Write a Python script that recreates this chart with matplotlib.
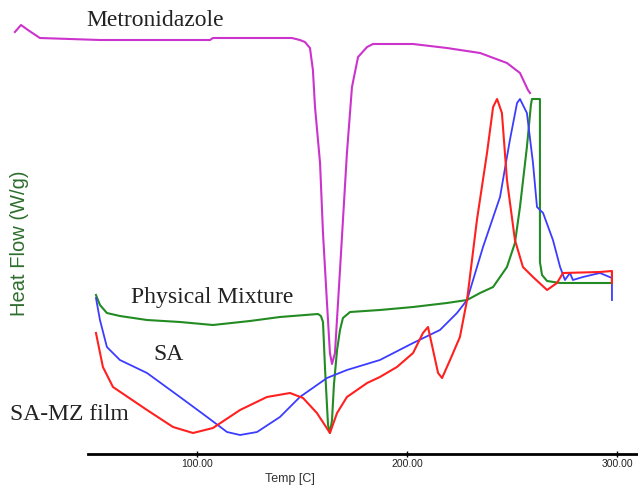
import matplotlib
matplotlib.use("Agg")
import matplotlib.pyplot as plt

# temperatures (C) and heat flow (arbitrary units)
mz_temp = [13.3, 16.2, 19.5, 25.2, 53.8, 106.2, 107.6, 145.2, 149.0, 151.4, 153.8, 155.2,
           156.2, 158.6, 160.0, 161.9, 163.3, 164.3, 165.7, 168.1, 171.4, 173.8, 176.7,
           181.0, 183.8, 202.9, 219.0, 234.8, 247.6, 253.8, 257.6, 258.6]
mz_hf = [4.22, 4.29, 4.24, 4.16, 4.14, 4.14, 4.16, 4.16, 4.14, 4.12, 4.06, 3.84,
         3.47, 2.91, 2.21, 1.51, 1.01, 0.90, 1.01, 1.84, 3.01, 3.67, 3.97,
         4.07, 4.10, 4.10, 4.06, 4.01, 3.91, 3.81, 3.64, 3.61]

pm_temp = [51.9, 53.8, 57.1, 63.3, 76.2, 91.9, 107.6, 125.2, 139.5, 157.6, 159.0, 160.0,
           161.0, 162.4, 163.3, 164.3, 165.2, 166.7, 168.1, 169.5, 172.9, 187.1, 202.9,
           219.0, 228.6, 234.8, 241.0, 247.6, 251.4, 253.8, 257.1, 259.0, 259.5, 263.3,
           263.3, 264.3, 266.7, 272.9, 297.6, 297.6]
pm_hf = [1.59, 1.49, 1.41, 1.38, 1.34, 1.32, 1.29, 1.33, 1.37, 1.40, 1.38, 1.32,
         0.84, 0.29, 0.21, 0.34, 0.69, 1.04, 1.24, 1.36, 1.42, 1.44, 1.47,
         1.51, 1.54, 1.61, 1.67, 1.87, 2.11, 2.47, 3.07, 3.49, 3.55, 3.55,
         1.92, 1.79, 1.73, 1.71, 1.71, 1.82]

sa_temp = [51.9, 53.8, 57.1, 63.3, 76.2, 91.9, 104.8, 114.3, 120.5, 128.6, 139.5, 149.0,
           161.9, 171.4, 187.1, 202.9, 215.7, 223.8, 228.6, 236.2, 244.3, 249.0, 252.4,
           253.8, 257.1, 260.0, 261.9, 264.8, 269.5, 272.9, 275.2, 277.6, 279.0, 283.8,
           291.9, 297.6, 297.6]
sa_hf = [1.56, 1.34, 1.07, 0.94, 0.81, 0.57, 0.37, 0.22, 0.19, 0.22, 0.37, 0.57,
         0.76, 0.84, 0.94, 1.11, 1.24, 1.41, 1.54, 2.07, 2.57, 3.14, 3.51,
         3.55, 3.41, 2.91, 2.47, 2.41, 2.14, 1.87, 1.74, 1.81, 1.74, 1.77,
         1.81, 1.76, 1.54]

film_temp = [51.9, 55.2, 60.0, 76.2, 88.6, 98.1, 107.6, 120.5, 133.3, 144.3, 150.5, 157.1,
             162.4, 163.3, 166.7, 171.4, 181.0, 187.1, 195.2, 202.9, 207.6, 210.0, 212.4,
             214.8, 216.7, 220.5, 225.2, 228.6, 233.3, 238.1, 241.0, 242.9, 245.2, 247.6,
             251.4, 255.2, 260.0, 266.7, 271.4, 274.3, 291.9, 297.6, 297.6]
film_hf = [1.21, 0.87, 0.67, 0.44, 0.27, 0.21, 0.26, 0.44, 0.57, 0.61, 0.56, 0.41,
           0.24, 0.21, 0.41, 0.57, 0.71, 0.77, 0.87, 1.01, 1.21, 1.27, 1.04,
           0.81, 0.76, 0.94, 1.17, 1.54, 2.34, 3.01, 3.47, 3.55, 3.41, 2.74,
           2.14, 1.87, 1.77, 1.64, 1.71, 1.81, 1.82, 1.83, 1.71]

xticks = [100, 200, 300]
xtick_labels = ["100.00", "200.00", "300.00"]

fig = plt.figure(figsize=(6.38, 4.88), dpi=100)
ax = fig.add_axes([0, 34 / 488, 1, 454 / 488])

ax.plot(mz_temp, mz_hf, color="#cc33cc", lw=1.5)
ax.plot(pm_temp, pm_hf, color="#228b22", lw=1.5)
ax.plot(sa_temp, sa_hf, color="#3c3cff", lw=1.3)
ax.plot(film_temp, film_hf, color="#ff2020", lw=1.5)

ax.set_xlim(6.2, 310)
ax.set_ylim(0, 4.54)

for s in ["left", "right", "top"]:
    ax.spines[s].set_visible(False)
ax.spines["bottom"].set_bounds(48, 310)
ax.spines["bottom"].set_linewidth(2)
ax.set_yticks([])
ax.set_xticks(xticks)
ax.set_xticklabels(xtick_labels, fontsize=7.5, family="Liberation Sans")
ax.tick_params(axis="x", direction="inout", length=5, width=1, pad=1, labelcolor="#222222")

# curve names
serif = "Liberation Serif"
ax.text(80, 4.34, "Metronidazole", fontsize=17, family=serif, ha="center", va="center", color="#222222")
ax.text(107.1, 1.56, "Physical Mixture", fontsize=17, family=serif, ha="center", va="center", color="#222222")
ax.text(86.2, 0.99, "SA", fontsize=17, family=serif, ha="center", va="center", color="#222222")
ax.text(39.0, 0.40, "SA-MZ film", fontsize=17, family=serif, ha="center", va="center", color="#222222")

fig.text(0.030, 0.502, "Heat Flow (W/g)", rotation=90, fontsize=14.5, family="Liberation Sans",
         color="#2e6e2e", ha="center", va="center")
fig.text(0.455, 0.018, "Temp [C]", fontsize=9, family="Liberation Sans", color="#333333",
         ha="center", va="center")

fig.savefig("out.png", dpi=100)
